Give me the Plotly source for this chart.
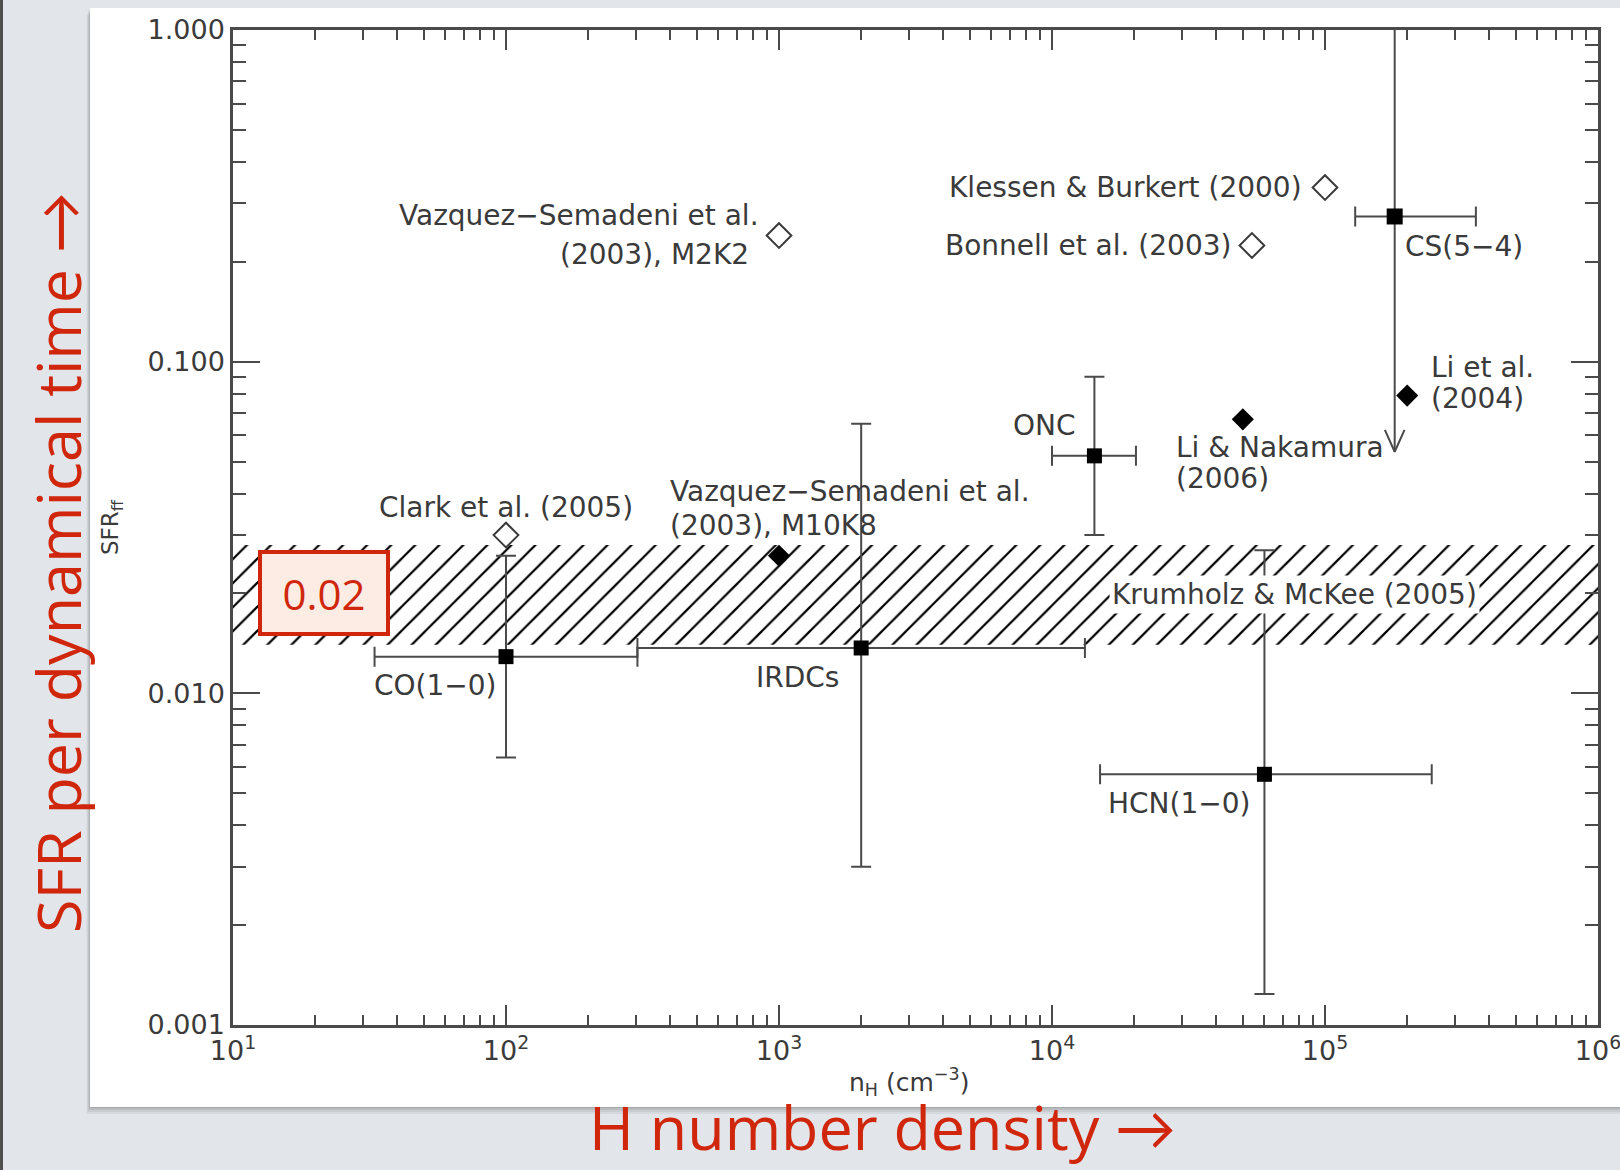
import numpy as np
import plotly.graph_objects as go

# ---------------- data ----------------
# Observational estimates (filled squares with error bars)
obs_names = ["CO(1−0)", "IRDCs", "ONC", "HCN(1−0)"]
obs_n = [100, 2000, 1.43e4, 6.0e4]
obs_sfr = [0.0129, 0.0137, 0.052, 0.0057]
obs_n_lo = [33, 303, 1.0e4, 1.5e4]
obs_n_hi = [303, 1.32e4, 2.03e4, 2.46e5]
obs_sfr_lo = [0.0064, 0.0030, 0.030, 0.00124]
obs_sfr_hi = [0.026, 0.065, 0.090, 0.027]

# CS(5-4): horizontal range plus an upper limit running to the top of the plot
cs_n = 1.8e5
cs_sfr = 0.274
cs_n_lo = 1.29e5
cs_n_hi = 3.57e5
cs_sfr_top = 1.0
cs_sfr_limit = 0.0535

# Simulations, open diamonds
sim_open_n = [1e3, 1e5, 5.4e4, 100]
sim_open_sfr = [0.24, 0.335, 0.224, 0.030]

# Simulations, filled diamonds
sim_fill_n = [1e3, 2.0e5, 5.0e4]
sim_fill_sfr = [0.026, 0.079, 0.067]

# Krumholz & McKee (2005) prediction band
band_lo = 0.014
band_hi = 0.028
band_value = 0.02
band_label_n = 1.62e4
band_value_n = 21.5

x_decades = [1, 2, 3, 4, 5, 6]
y_ticks = [0.001, 0.01, 0.1, 1.0]
y_ticktext = ["0.001", "0.010", "0.100", "1.000"]

# ---------------- styling ----------------
INK = "#3a3a3a"
AXIS = "#4a4a4a"
RED = "#cf260c"
LABEL_FONT = dict(family="DejaVu Sans, Liberation Sans, sans-serif", size=28, color=INK)
TICK_FONT = dict(family="DejaVu Sans, Liberation Sans, sans-serif", size=27, color=INK)
RED_FONT = "Open Sans, Lato, sans-serif"

W, H = 1620, 1170
ML, MR, MT, MB = 233, 22, 30, 145
PW, PH = W - ML - MR, H - MT - MB


def px2paper_x(px):
    return (px - ML) / PW


def px2paper_y(py):
    return (H - MB - py) / PH


fig = go.Figure()

# hatched prediction band across the full density range
x_lo, x_hi = 10.0 ** x_decades[0], 10.0 ** x_decades[-1]
fig.add_trace(go.Scatter(
    x=[x_lo, x_hi, x_hi, x_lo, x_lo],
    y=[band_lo, band_lo, band_hi, band_hi, band_lo],
    mode="lines", fill="toself", line=dict(width=0),
    fillcolor="white",
    fillpattern=dict(shape="/", size=17, solidity=0.13, fgcolor="#000000",
                     fgopacity=1, bgcolor="white"),
    hoverinfo="skip"))

err_style = dict(color=AXIS, thickness=2, width=10)

# observational points with two-sided error bars
fig.add_trace(go.Scatter(
    x=obs_n, y=obs_sfr, mode="markers",
    marker=dict(symbol="square", size=15, color="black"),
    error_x=dict(type="data", symmetric=False,
                 array=[h - c for h, c in zip(obs_n_hi, obs_n)],
                 arrayminus=[c - l for c, l in zip(obs_n, obs_n_lo)], **err_style),
    error_y=dict(type="data", symmetric=False,
                 array=[h - c for h, c in zip(obs_sfr_hi, obs_sfr)],
                 arrayminus=[c - l for c, l in zip(obs_sfr, obs_sfr_lo)], **err_style),
    hoverinfo="skip"))

# CS(5-4) upper limit line and open arrowhead
lx, ly = np.log10(cs_n), np.log10(cs_sfr_limit)
arm_dx, arm_dy = 0.036, 0.066
fig.add_trace(go.Scatter(
    x=[cs_n, cs_n], y=[cs_sfr_top, cs_sfr_limit], mode="lines",
    line=dict(color=AXIS, width=2), hoverinfo="skip"))
fig.add_trace(go.Scatter(
    x=[10 ** (lx - arm_dx), cs_n, 10 ** (lx + arm_dx)],
    y=[10 ** (ly + arm_dy), cs_sfr_limit, 10 ** (ly + arm_dy)],
    mode="lines", line=dict(color=AXIS, width=2), hoverinfo="skip"))
fig.add_trace(go.Scatter(
    x=[cs_n], y=[cs_sfr], mode="markers",
    marker=dict(symbol="square", size=16, color="black"),
    error_x=dict(type="data", symmetric=False, array=[cs_n_hi - cs_n],
                 arrayminus=[cs_n - cs_n_lo], **err_style),
    hoverinfo="skip"))

# simulations
fig.add_trace(go.Scatter(
    x=sim_open_n, y=sim_open_sfr, mode="markers",
    marker=dict(symbol="diamond", size=19, color="white",
                line=dict(color=INK, width=2)),
    hoverinfo="skip"))
fig.add_trace(go.Scatter(
    x=sim_fill_n, y=sim_fill_sfr, mode="markers",
    marker=dict(symbol="diamond", size=17, color="black"),
    hoverinfo="skip"))


def label(text, xv, yv, xanchor, xshift, yshift, **kw):
    fig.add_annotation(x=np.log10(xv), y=np.log10(yv), xref="x", yref="y",
                       text=text, showarrow=False, xanchor=xanchor,
                       yanchor="middle", xshift=xshift, yshift=yshift,
                       font=LABEL_FONT, **kw)


# point labels
label("Vazquez−Semadeni et al.", sim_open_n[0], sim_open_sfr[0], "right", -18, 20)
label("(2003), M2K2", sim_open_n[0], sim_open_sfr[0], "right", -28, -19)
label("Klessen &amp; Burkert (2000)", sim_open_n[1], sim_open_sfr[1], "right", -21, 0)
label("Bonnell et al. (2003)", sim_open_n[2], sim_open_sfr[2], "right", -19, 0)
label("Clark et al. (2005)", sim_open_n[3], sim_open_sfr[3], "center", 0, 28)
label("CS(5−4)", cs_n, cs_sfr, "left", 8, -30)
label("Li et al.", sim_fill_n[1], sim_fill_sfr[1], "left", 22, 28)
label("(2004)", sim_fill_n[1], sim_fill_sfr[1], "left", 22, -3)
label("Li &amp; Nakamura", sim_fill_n[2], sim_fill_sfr[2], "left", -69, -28)
label("(2006)", sim_fill_n[2], sim_fill_sfr[2], "left", -69, -59)
label("Vazquez−Semadeni et al.", sim_fill_n[0], sim_fill_sfr[0], "left", -111, 64)
label("(2003), M10K8", sim_fill_n[0], sim_fill_sfr[0], "left", -111, 30)
label(obs_names[0], obs_n[0], obs_sfr[0], "right", -7, -29)
label(obs_names[1], obs_n[1], obs_sfr[1], "right", -20, -30)
label(obs_names[2], obs_n[2], obs_sfr[2], "right", -16, 30)
label(obs_names[3], obs_n[3], obs_sfr[3], "right", -11, -29)
label("Krumholz &amp; McKee (2005)", band_label_n, np.sqrt(band_lo * band_hi),
      "left", 0, 0, bgcolor="white", borderpad=2)

# highlighted band value
fig.add_annotation(
    x=np.log10(band_value_n), y=np.log10(band_value), xref="x", yref="y",
    text=f"{band_value:.2f}", showarrow=False,
    font=dict(family=RED_FONT, size=42, color=RED),
    bgcolor="#fdece3", bordercolor=RED, borderwidth=4, borderpad=0,
    width=124, height=78, xanchor="center", yanchor="middle")


def paper_text(text, px, py, font, angle=0):
    fig.add_annotation(x=px2paper_x(px), y=px2paper_y(py), xref="paper", yref="paper",
                       text=text, textangle=angle, showarrow=False,
                       xanchor="center", yanchor="middle", font=font)


# inner axis titles
paper_text("SFR<sub>ff</sub>", 112, 527,
           dict(family="DejaVu Sans, sans-serif", size=23, color=INK), -90)
paper_text("n<sub>H</sub> (cm<sup>−3</sup>)", 909, 1082,
           dict(family="DejaVu Sans, sans-serif", size=25, color=INK))

# slide captions
paper_text("SFR per dynamical time →", 57, 563,
           dict(family=RED_FONT, size=61, color=RED), -90)
paper_text("H number density →", 882, 1126,
           dict(family=RED_FONT, size=61, color=RED))

# slide panel, its shadow and the dark left edge
shapes = []
for off, alpha in [(7, 0.05), (5, 0.06), (3, 0.08), (1, 0.10)]:
    shapes.append(dict(type="rect", xref="paper", yref="paper", layer="below",
                       x0=px2paper_x(90 - off / 2), x1=px2paper_x(1640),
                       y0=px2paper_y(1107 + off), y1=px2paper_y(8 + off),
                       fillcolor=f"rgba(0,0,0,{alpha})", line=dict(width=0)))
shapes.append(dict(type="rect", xref="paper", yref="paper", layer="below",
                   x0=px2paper_x(90), x1=px2paper_x(1640),
                   y0=px2paper_y(1107), y1=px2paper_y(8),
                   fillcolor="white", line=dict(width=0)))
shapes.append(dict(type="rect", xref="paper", yref="paper", layer="below",
                   x0=px2paper_x(0), x1=px2paper_x(3),
                   y0=px2paper_y(H + 5), y1=px2paper_y(-5),
                   fillcolor="#4f4f4f", line=dict(width=0)))

x_minor = [m * 10 ** d for d in x_decades[:-1] for m in range(2, 10)]
y_minor = [m * t for t in y_ticks[:-1] for m in range(2, 10)]

axis_common = dict(type="log", showgrid=False, zeroline=False, showline=True,
                   linecolor=AXIS, linewidth=2.5, mirror="allticks",
                   ticks="inside", tickwidth=2, tickcolor=AXIS, tickfont=TICK_FONT,
                   automargin=False, ticklabeloverflow="allow")

fig.update_layout(
    width=W, height=H,
    margin=dict(l=ML, r=MR, t=MT, b=MB, pad=0, autoexpand=False),
    paper_bgcolor="#e2e5e9", plot_bgcolor="white",
    showlegend=False,
    shapes=shapes,
    xaxis=dict(range=[x_decades[0], x_decades[-1]],
               tickvals=[10 ** d for d in x_decades],
               ticktext=[f"10<sup>{d}</sup>" for d in x_decades],
               ticklen=20,
               minor=dict(tickvals=x_minor, ticks="inside", ticklen=10,
                          tickwidth=1.5, tickcolor=AXIS),
               **axis_common),
    yaxis=dict(range=[np.log10(y_ticks[0]), np.log10(y_ticks[-1])],
               tickvals=y_ticks, ticktext=y_ticktext,
               ticklen=27,
               minor=dict(tickvals=y_minor, ticks="inside", ticklen=13,
                          tickwidth=1.5, tickcolor=AXIS),
               **axis_common),
)

fig.write_html("out.html")
